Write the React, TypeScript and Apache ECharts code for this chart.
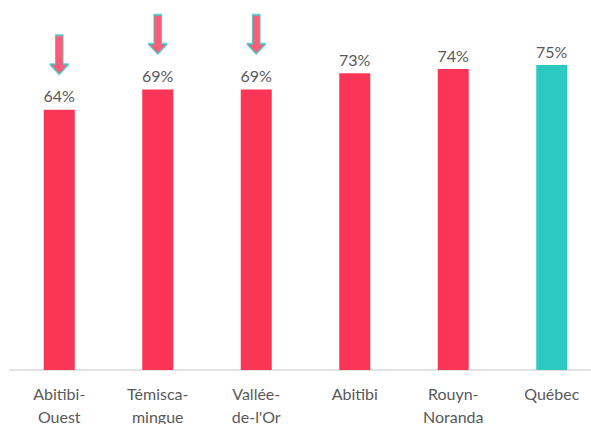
import React, { useEffect, useRef } from "react";
import * as echarts from "echarts";

const categories = ["Abitibi-\nOuest", "Témisca-\nmingue", "Vallée-\nde-l'Or", "Abitibi", "Rouyn-\nNoranda", "Québec"];
const values = [64, 69, 69, 73, 74, 75];
const barColors = ["#FA3556", "#FA3556", "#FA3556", "#FA3556", "#FA3556", "#2BC9C0"];
const arrowValues = [64, 69, 69, null, null, null];

const ARROW = "path://M6,0 L14,0 L14,29 L20,29 L10,39 L0,29 L6,29 Z";

export default function App() {
  const ref = useRef<HTMLDivElement>(null);
  useEffect(() => {
    document.body.style.margin = "0";
    const chart = echarts.init(ref.current!, null, { renderer: "svg" });
    chart.setOption({
      animation: false,
      grid: { left: 10, width: 591, top: 4, height: 366, containLabel: false, outerBoundsMode: "none" },
      xAxis: {
        type: "category",
        data: categories,
        axisTick: { show: false },
        axisLine: { lineStyle: { color: "#D9D9D9", width: 1.5 } },
        axisLabel: {
          color: "#595959",
          fontSize: 16,
          fontFamily: "Lato",
          lineHeight: 23,
          margin: 12,
          interval: 0,
        },
      },
      yAxis: { type: "value", min: 0, max: 90, show: false, splitLine: { show: false } },
      series: [
        {
          type: "bar",
          barWidth: 31,
          data: values.map((v, i) => ({ value: v, itemStyle: { color: barColors[i] } })),
          label: {
            show: true,
            position: "top",
            distance: 6,
            formatter: "{c}%",
            color: "#595959",
            fontSize: 16,
            fontFamily: "Lato",
          },
        },
        {
          type: "scatter",
          data: arrowValues,
          symbol: ARROW,
          symbolSize: [19, 39],
          symbolOffset: [0, -55],
          itemStyle: { color: "#FA3556", borderColor: "#3CC8C0", borderWidth: 1.5 },
          silent: true,
          z: 5,
        },
      ],
    });
    return () => chart.dispose();
  }, []);
  return <div ref={ref} style={{ width: 591, height: 424 }} />;
}
